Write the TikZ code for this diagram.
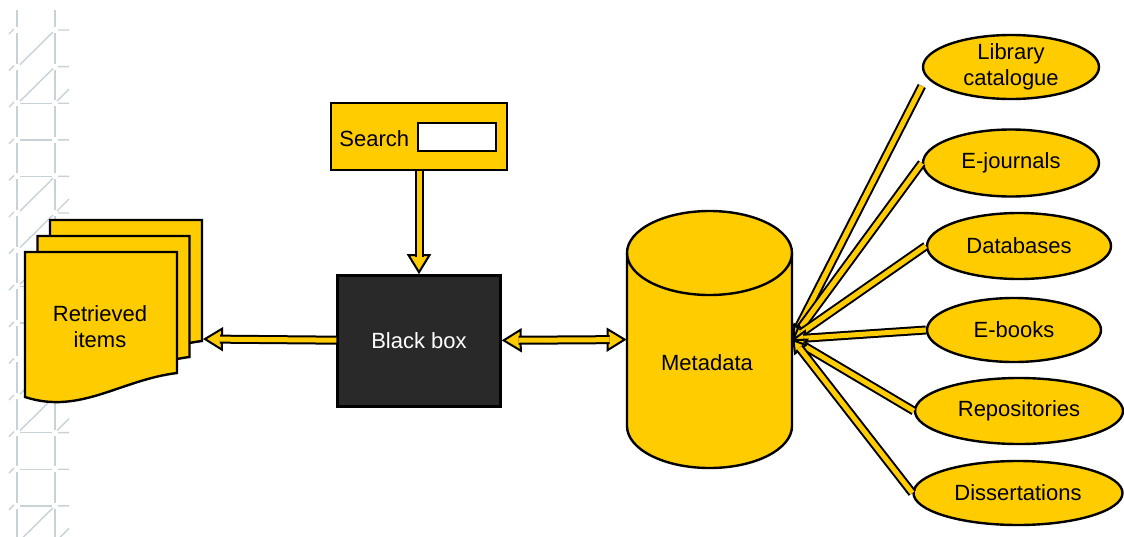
\documentclass[tikz,border=0pt]{standalone}
\usepackage{fontspec}
\setmainfont{Liberation Sans}
\usetikzlibrary{shapes.geometric,arrows.meta,positioning}
\definecolor{gold}{HTML}{FFCC00}
\definecolor{charcoal}{HTML}{292929}
\definecolor{trellisgrey}{HTML}{C8D2D6}

\begin{document}
\begin{tikzpicture}[x=0.5pt,y=-0.5pt,
    every node/.style={font=\fontsize{11}{13}\selectfont, align=center},
    box/.style={shape=rectangle, draw, line width=1.2pt, fill=gold},
    source/.style={shape=ellipse, draw, line width=1.2pt, fill=gold, inner sep=0pt},
    docpage/.style={draw, line width=1.2pt, fill=gold},
    trellis/.style={draw=trellisgrey, line width=0.7pt},
    pipe/.style={line width=1pt, double=gold, double distance=2.5pt},
    bighead/.style={line width=1pt, -{Triangle[length=10pt,width=12pt,fill=gold]}},
    twoheads/.style={line width=1pt, {Triangle[length=10pt,width=12pt,fill=gold]}-{Triangle[length=10pt,width=12pt,fill=gold]}},
    smallhead/.style={line width=1pt, -{Triangle[length=7pt,width=8.5pt,fill=gold]}},
]
    \useasboundingbox (0,0) rectangle (1124,536);

    % trellis down the left margin
    \draw[trellis] (17,10) -- (17,27) (55,10) -- (55,27);
    \foreach \k in {0,...,13} {
        \pgfmathsetmacro\ytop{30+36.6*\k}
        \pgfmathsetmacro\ybot{\ytop+36.6}
        \draw[trellis] (17,{\ytop+3}) -- (17,{\ybot-3}) (55,{\ytop+3}) -- (55,{\ybot-3});
        \draw[trellis] (58,\ytop) -- (69,\ytop) (9,{\ytop+4}) -- (14,{\ytop-1});
    }
    \foreach \k in {0,1,4,5,6,9,10,13}
        \draw[trellis] (20,{30+36.6*(\k+1)-2}) -- (53,{30+36.6*\k+2});
    \foreach \k in {1,4,6,10,13}
        \draw[trellis] (57,{30+36.6*(\k+1)-2}) -- (69,{30+36.6*(\k+1)-14});
    \foreach \k in {2,3,4,7,8,11,12,13}
        \draw[trellis] (20,{30+36.6*\k}) -- (52,{30+36.6*\k});

    % stack of retrieved pages
    \foreach \dx/\dy in {25/-32, 12.5/-16, 0/0}
        \filldraw[docpage, shift={(\dx,\dy)}] (25,252) -- (177,252) -- (177,373)
            .. controls (120,380) and (80,415) .. (25,397) -- cycle;
    \node (items) at (100,327) {Retrieved\\items};
    \coordinate (stack) at (203,339);

    % metadata store
    \filldraw[fill=gold, line width=1.2pt] (627,253) -- (627,426)
        arc[start angle=180, end angle=360, x radius=41.25pt, y radius=21pt] -- (792,253)
        arc[start angle=0, end angle=180, x radius=41.25pt, y radius=21pt] -- cycle;
    \draw[line width=1.2pt] (627,253) arc[start angle=180, end angle=360, x radius=41.25pt, y radius=21pt];
    \node (meta) [minimum width=82.5pt, minimum height=128.5pt] at (709.5,339) {};
    \node (metalbl) at (707,363) {Metadata};

    % search form and engine
    \node (search) [box, minimum width=88pt, minimum height=33.5pt] at (419,136.5) {};
    \node (field) [draw, line width=1pt, fill=white, minimum width=39pt, minimum height=14pt, left=5.5pt of search.east] {};
    \node (searchlbl) [left=0.5pt of field, yshift=-1pt] {Search};
    \node (bbox) [box, fill=charcoal, text=white, minimum width=81.5pt, minimum height=65.5pt, below=51.5pt of search] {Black box};

    % the sources
    \node (lib)  [source, minimum width=88pt,  minimum height=32pt, inner ysep=-1.5pt] at (1011,67) {Library\\catalogue};
    \node (ej)   [source, minimum width=88pt,  minimum height=33.5pt] at (1011,163) {E-journals};
    \node (dbs)  [source, minimum width=92pt,  minimum height=33pt] at (1019,246) {Databases};
    \node (eb)   [source, minimum width=87pt,  minimum height=32pt] at (1014,330) {E-books};
    \node (rep)  [source, minimum width=104pt, minimum height=33pt] at (1019,411) {Repositories};
    \node (diss) [source, minimum width=104.5pt, minimum height=32pt] at (1018,493) {Dissertations};
    \coordinate (libfoot) at ([yshift=-9.5pt]lib.west);

    % connect the nodes
    \draw[bighead] (search) -- (bbox);
    \draw[pipe, shorten >=8.5pt] (search) -- (bbox);
    \draw[bighead] (bbox) -- (stack);
    \draw[pipe, shorten >=8.5pt] (bbox) -- (stack);
    \draw[twoheads] (bbox) -- (meta);
    \draw[pipe, shorten <=8.5pt, shorten >=8.5pt] (bbox) -- (meta);
    \foreach \src in {libfoot, ej.west, dbs.west, eb.west, rep.west, diss.west} {
        \draw[smallhead] (\src) -- (meta.east);
        \draw[pipe, shorten >=5.5pt] (\src) -- (meta.east);
    }

\end{tikzpicture}
\end{document}
